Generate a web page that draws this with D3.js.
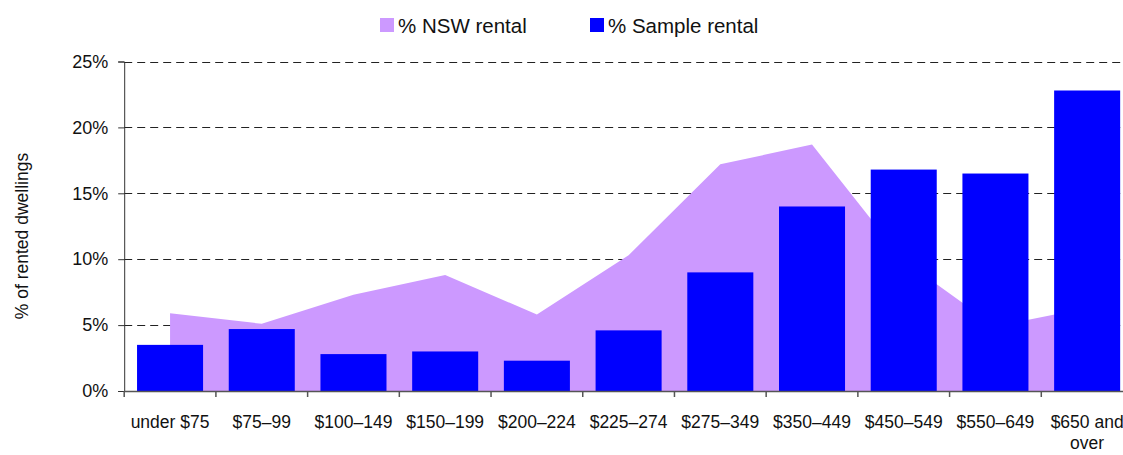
<!DOCTYPE html>
<html>
<head>
<meta charset="utf-8">
<script src="https://cdn.jsdelivr.net/npm/d3@7"></script>
<style>
  body { margin: 0; background: #fff; }
  svg { display: block; font-family: "Liberation Sans", Arial, sans-serif; }
</style>
</head>
<body>
<script>
var w = 1123;
var h = 455;

// weekly rent bands
var categories = ["under $75", "$75\u201399", "$100\u2013149", "$150\u2013199", "$200\u2013224",
  "$225\u2013274", "$275\u2013349", "$350\u2013449", "$450\u2013549", "$550\u2013649", "$650 and over"];
var nswRental = [5.9, 5.1, 7.3, 8.8, 5.8, 10.3, 17.2, 18.7, 9.9, 4.9, 6.3];
var sampleRental = [3.5, 4.7, 2.8, 3.0, 2.3, 4.6, 9.0, 14.0, 16.8, 16.5, 22.8];
var yTicks = [0, 5, 10, 15, 20, 25];
var seriesNames = ["% NSW rental", "% Sample rental"];
var seriesColors = ["#cc99ff", "#0000ff"];

// plot box (note: "top" is reserved on window)
var plotLeft = 124.2, plotRight = 1133, plotTop = 61.5, plotBottom = 391;

var svg = d3.select("body")
  .append("svg")
  .attr("width", w)
  .attr("height", h);

var x = d3.scaleBand()
  .domain(categories)
  .range([plotLeft, plotRight])
  .paddingInner(0.28)
  .paddingOuter(0.14);

var y = d3.scaleLinear()
  .domain([0, 25])
  .range([plotBottom, plotTop]);

// gridlines
svg.append("g")
  .selectAll("line")
  .data(yTicks.filter(function(d) { return d > 0; }))
  .enter()
  .append("line")
  .attr("x1", plotLeft)
  .attr("x2", plotRight)
  .attr("y1", function(d) { return Math.round(y(d)) + 0.5; })
  .attr("y2", function(d) { return Math.round(y(d)) + 0.5; })
  .attr("stroke", "#222")
  .attr("stroke-width", 1)
  .attr("stroke-dasharray", "8,5");

// NSW area
var area = d3.area()
  .x(function(d, i) { return x(categories[i]) + x.bandwidth() / 2; })
  .y0(y(0))
  .y1(function(d) { return y(d); });

svg.append("path")
  .datum(nswRental)
  .attr("d", area)
  .attr("fill", seriesColors[0]);

// sample bars
svg.append("g")
  .selectAll("rect")
  .data(sampleRental)
  .enter()
  .append("rect")
  .attr("x", function(d, i) { return x(categories[i]); })
  .attr("width", x.bandwidth())
  .attr("y", function(d) { return y(d); })
  .attr("height", function(d) { return y(0) - y(d); })
  .attr("fill", seriesColors[1]);

// y axis
var yAxis = svg.append("g")
  .attr("transform", "translate(" + plotLeft + ",0)")
  .call(d3.axisLeft(y).tickValues(yTicks).tickFormat(function(d) { return d + "%"; }).tickSize(6).tickPadding(10));
yAxis.select(".domain").attr("stroke", "#333");
yAxis.selectAll(".tick line").attr("stroke", "#333");
yAxis.selectAll("text")
  .attr("font-size", 18)
  .attr("font-family", "Liberation Sans, Arial, sans-serif")
  .attr("fill", "#111");

// x axis: ticks at band boundaries
var xAxis = svg.append("g");
xAxis.append("line")
  .attr("x1", plotLeft)
  .attr("x2", w)
  .attr("y1", plotBottom + 0.5)
  .attr("y2", plotBottom + 0.5)
  .attr("stroke", "#555")
  .attr("stroke-width", 1.5);

xAxis.selectAll("line.tk")
  .data(categories)
  .enter()
  .append("line")
  .attr("class", "tk")
  .attr("x1", function(d) { return x(d) - x.step() * 0.14; })
  .attr("x2", function(d) { return x(d) - x.step() * 0.14; })
  .attr("y1", plotBottom)
  .attr("y2", plotBottom + 6)
  .attr("stroke", "#555")
  .attr("stroke-width", 1.5);

xAxis.selectAll("text")
  .data(categories)
  .enter()
  .append("text")
  .attr("x", function(d) { return x(d) + x.bandwidth() / 2; })
  .attr("y", 428)
  .attr("text-anchor", "middle")
  .attr("font-size", 17.5)
  .attr("fill", "#111")
  .each(function(d) {
    var t = d3.select(this);
    var parts = d === "$650 and over" ? ["$650 and", "over"] : [d];
    parts.forEach(function(p, i) {
      t.append("tspan")
        .attr("x", x(d) + x.bandwidth() / 2)
        .attr("dy", i === 0 ? 0 : 21)
        .text(p);
    });
  });

// y title
svg.append("text")
  .attr("transform", "translate(28,236) rotate(-90)")
  .attr("text-anchor", "middle")
  .attr("font-size", 17.5)
  .attr("fill", "#111")
  .text("% of rented dwellings");

// legend
var legendX = [380, 590];
var legend = svg.append("g")
  .selectAll("g")
  .data(seriesNames)
  .enter()
  .append("g")
  .attr("transform", function(d, i) { return "translate(" + legendX[i] + ",18)"; });

legend.append("rect")
  .attr("width", 14)
  .attr("height", 14)
  .attr("fill", function(d, i) { return seriesColors[i]; });

legend.append("text")
  .attr("x", 18)
  .attr("y", 14.5)
  .attr("font-size", 20.5)
  .attr("fill", "#111")
  .text(function(d) { return d; });
</script>
</body>
</html>
